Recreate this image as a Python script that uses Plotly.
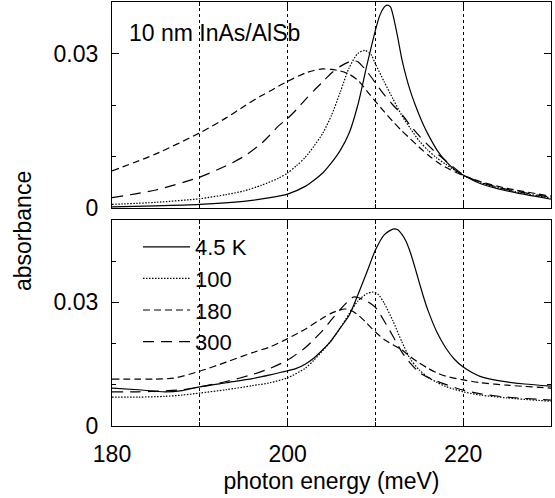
import plotly.graph_objects as go
from plotly.subplots import make_subplots

# ---------------- data ----------------
labels = ["4.5 K", "100", "180", "300"]

# top panel (10 nm InAs/AlSb)
top_x_45 = [180, 185, 190, 195, 198, 200, 202, 203, 204, 205, 206, 207, 208, 209, 210, 210.5, 211, 211.3, 211.7,
            212, 212.5, 213, 213.5, 214, 214.5, 215, 215.5, 216, 217, 218, 219, 220, 222, 225, 230]
top_y_45 = [0.0002, 0.0004, 0.0007, 0.0013, 0.0020, 0.0027, 0.0042, 0.0054, 0.0068, 0.0088, 0.0112, 0.0145, 0.0200,
            0.0275, 0.0345, 0.0374, 0.0390, 0.0394, 0.0391, 0.0375, 0.0335, 0.0290, 0.0255, 0.0226, 0.0202, 0.0180,
            0.0160, 0.0143, 0.0113, 0.0091, 0.0075, 0.0064, 0.0047, 0.0033, 0.0017]

top_x_100 = [180, 185, 190, 193, 195, 197, 199, 200, 201, 202, 203, 204, 205, 206, 207, 208, 208.8, 209.5, 210, 211,
             212, 213, 214, 215, 216, 217, 218, 220, 222, 225, 230]
top_y_100 = [0.0007, 0.0011, 0.0018, 0.0026, 0.0033, 0.0044, 0.0058, 0.0068, 0.0082, 0.0098, 0.0120, 0.0145, 0.0180,
             0.0225, 0.0272, 0.0300, 0.0306, 0.0298, 0.0280, 0.0245, 0.0212, 0.0180, 0.0154, 0.0130, 0.0112, 0.0097,
             0.0085, 0.0063, 0.0049, 0.0035, 0.0019]

top_x_180 = [180, 185, 190, 193, 195, 197, 198, 199, 200, 202, 203, 204, 205, 206, 207, 208, 209, 210, 211, 212, 213,
             214, 215, 216, 217, 218, 220, 222, 225, 230]
top_y_180 = [0.0072, 0.0105, 0.0146, 0.0175, 0.0197, 0.0218, 0.0227, 0.0237, 0.0246, 0.0262, 0.0267, 0.0270, 0.0269,
             0.0266, 0.0260, 0.0248, 0.0228, 0.0207, 0.0187, 0.0168, 0.0150, 0.0134, 0.0118, 0.0103, 0.0090, 0.0079,
             0.0063, 0.0051, 0.0038, 0.0023]

top_x_300 = [180, 185, 190, 193, 195, 197, 198, 199, 200, 201, 202, 203, 204, 205, 206, 207, 207.5, 208, 209, 210,
             211, 212, 213, 214, 215, 216, 217, 218, 220, 222, 225, 230]
top_y_300 = [0.0020, 0.0035, 0.0060, 0.0082, 0.0100, 0.0125, 0.0142, 0.0160, 0.0174, 0.0191, 0.0210, 0.0228, 0.0245,
             0.0262, 0.0275, 0.0284, 0.0286, 0.0284, 0.0266, 0.0243, 0.0220, 0.0200, 0.0182, 0.0160, 0.0140, 0.0122,
             0.0106, 0.0092, 0.0065, 0.0050, 0.0036, 0.0021]

# bottom panel
bot_x_45 = [180, 183, 186, 188, 190, 193, 196, 198, 200, 201, 202, 203, 204, 205, 206, 207, 208, 209, 210, 211, 212,
            212.5, 213, 213.5, 214, 214.5, 215, 215.5, 216, 217, 218, 219, 220, 221, 222, 224, 227, 230]
bot_y_45 = [0.0092, 0.0088, 0.0083, 0.0086, 0.0095, 0.0105, 0.0115, 0.0124, 0.0134, 0.0140, 0.0150, 0.0165, 0.0185,
            0.0208, 0.0238, 0.0268, 0.0318, 0.0372, 0.0427, 0.0464, 0.0478, 0.0477, 0.0466, 0.0448, 0.0420, 0.0385,
            0.0348, 0.0312, 0.0280, 0.0228, 0.0190, 0.0162, 0.0143, 0.0130, 0.0120, 0.0110, 0.0102, 0.0097]

bot_x_100 = [180, 183, 186, 188, 190, 193, 196, 198, 200, 202, 203, 204, 205, 206, 207, 208, 209, 209.7, 210.3, 211,
             212, 213, 214, 215, 216, 217, 218, 220, 222, 225, 230]
bot_y_100 = [0.0070, 0.0070, 0.0072, 0.0075, 0.0080, 0.0088, 0.0098, 0.0105, 0.0117, 0.0140, 0.0160, 0.0183, 0.0208,
             0.0238, 0.0272, 0.0303, 0.0321, 0.0325, 0.0320, 0.0298, 0.0255, 0.0205, 0.0162, 0.0136, 0.0118, 0.0106,
             0.0096, 0.0083, 0.0075, 0.0068, 0.0060]

bot_x_180 = [180, 185, 187, 190, 193, 196, 198, 200, 202, 204, 205, 206, 206.5, 207, 208, 209, 210, 211, 212, 213,
             214, 215, 216, 217, 218, 220, 222, 225, 230]
bot_y_180 = [0.0114, 0.0114, 0.0116, 0.0133, 0.0155, 0.0178, 0.0192, 0.0212, 0.0235, 0.0262, 0.0274, 0.0282, 0.0284,
             0.0283, 0.0270, 0.0250, 0.0228, 0.0210, 0.0197, 0.0185, 0.0168, 0.0153, 0.0140, 0.0129, 0.0121, 0.0112,
             0.0105, 0.0099, 0.0092]

bot_x_300 = [180, 183, 186, 188, 190, 193, 196, 198, 200, 202, 203, 204, 205, 206, 207, 207.5, 208, 209, 210, 211,
             212, 213, 214, 215, 216, 217, 218, 220, 222, 225, 230]
bot_y_300 = [0.0083, 0.0083, 0.0085, 0.0088, 0.0095, 0.0108, 0.0125, 0.0140, 0.0160, 0.0190, 0.0210, 0.0232, 0.0258,
             0.0283, 0.0305, 0.0313, 0.0312, 0.0303, 0.0288, 0.0255, 0.0218, 0.0180, 0.0152, 0.0130, 0.0118, 0.0109,
             0.0101, 0.0087, 0.0078, 0.0070, 0.0063]

x_ticks = [180, 200, 220]
y_ticks = [0, 0.03]
y_ticktext = ["0", "0.03"]

# ---------------- figure ----------------
FONT = "Liberation Sans, Arial, Helvetica, sans-serif"
FS = 23
dashes = ["solid", "1.5px,1.5px", "7px,4px", "11px,7px"]

fig = make_subplots(rows=2, cols=1, shared_xaxes=True, vertical_spacing=12 / 424)

top = [(top_x_45, top_y_45), (top_x_100, top_y_100), (top_x_180, top_y_180), (top_x_300, top_y_300)]
bot = [(bot_x_45, bot_y_45), (bot_x_100, bot_y_100), (bot_x_180, bot_y_180), (bot_x_300, bot_y_300)]

for i, (xs, ys) in enumerate(top):
    fig.add_trace(go.Scatter(x=xs, y=ys, mode="lines", name=labels[i], showlegend=False,
                             line=dict(color="black", width=1.2, dash=dashes[i], shape="spline", smoothing=0.7)),
                  row=1, col=1)
for i, (xs, ys) in enumerate(bot):
    fig.add_trace(go.Scatter(x=xs, y=ys, mode="lines", name=labels[i], showlegend=True,
                             line=dict(color="black", width=1.2, dash=dashes[i], shape="spline", smoothing=0.7)),
                  row=2, col=1)

xax = dict(range=[180, 230], tickvals=x_ticks, ticks="inside", ticklen=7, tickcolor="black",
           showline=True, linecolor="black", linewidth=1.2, mirror="ticks", automargin=False,
           showgrid=True, gridcolor="black", griddash="dot", gridwidth=1,
           minor=dict(dtick=10, tick0=180, ticks="inside", ticklen=4, tickcolor="black",
                      showgrid=True, gridcolor="black", griddash="dot", gridwidth=1),
           zeroline=False, tickfont=dict(family=FONT, size=FS, color="black"), ticklabelstandoff=7)
fig.update_xaxes(**xax)
fig.update_xaxes(showticklabels=False, row=1, col=1)
fig.update_xaxes(title=dict(text="photon energy (meV)", font=dict(family=FONT, size=FS, color="black"),
                            standoff=7), row=2, col=1)

yax = dict(tickvals=y_ticks, ticktext=y_ticktext, ticks="inside", ticklen=7, tickcolor="black",
           showline=True, linecolor="black", linewidth=1.2, mirror="ticks", showgrid=False, zeroline=False,
           automargin=False,
           minor=dict(dtick=0.01, tick0=0, ticks="inside", ticklen=4, tickcolor="black", showgrid=False),
           tickfont=dict(family=FONT, size=FS, color="black"), ticklabelstandoff=8)
fig.update_yaxes(**yax)
fig.update_yaxes(range=[0, 0.04], row=1, col=1)
fig.update_yaxes(range=[0, 0.05], row=2, col=1)

fig.add_annotation(x=181.7, y=0.034, xref="x", yref="y", text="10 nm InAs/AlSb", showarrow=False,
                   xanchor="left", yanchor="middle", font=dict(family=FONT, size=FS, color="black"))
fig.add_annotation(x=(23 - 112) / 439, y=(426 - 231) / 424, xref="paper", yref="paper", text="absorbance",
                   showarrow=False, textangle=-90, xanchor="center", yanchor="middle",
                   font=dict(family=FONT, size=FS, color="black"))

fig.update_layout(
    width=555, height=498,
    margin=dict(l=112, r=4, t=2, b=72, autoexpand=False),
    paper_bgcolor="white", plot_bgcolor="white",
    font=dict(family=FONT, size=FS, color="black"),
    legend=dict(x=(138 - 112) / 439, y=(426 - 226) / 424, xanchor="left", yanchor="top",
                bgcolor="rgba(0,0,0,0)", font=dict(family=FONT, size=22, color="black"),
                itemwidth=47, tracegroupgap=0),
)

fig.write_html("out.html", config={"displayModeBar": False},
               post_script="document.body.style.margin='0px';")
